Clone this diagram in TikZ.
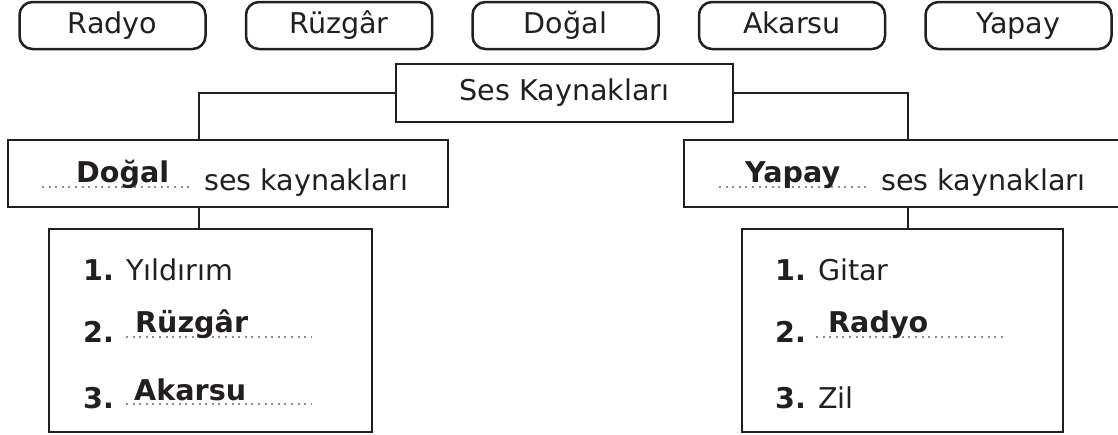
\documentclass[tikz,border=0pt]{standalone}
\usepackage{fontspec}
\setmainfont{DejaVu Sans}
\usepackage{tikz}

\definecolor{ink}{RGB}{35,31,32}
\definecolor{dotgray}{RGB}{140,140,140}
\newcommand\bigfont{\fontsize{28.6}{34}\selectfont}
\tikzset{
    wordbox/.style={shape=rectangle, rounded corners=13pt, draw=ink, line width=2.5pt, minimum width=186pt, minimum height=47pt, inner sep=0pt, text height=21pt, text depth=6pt},
    plainbox/.style={shape=rectangle, draw=ink, line width=2.5pt, inner sep=0pt},
    txt/.style={anchor=base west, inner sep=0pt, text=ink},
    answer/.style={txt, font=\bigfont\bfseries},
    blank/.style={draw=dotgray, line width=2pt, dash pattern=on 2pt off 4.6pt},
    wire/.style={draw=ink, line width=2.5pt}
}

\begin{document}
\begin{tikzpicture}[x=1pt, y=-1pt, font=\bigfont, text=ink]
    \useasboundingbox (0,0) rectangle (1118,434);

    \node[wordbox] (T1) at (112.5,25.5) {Radyo};
    \node[wordbox] (T2) at (339,25.5) {Rüzgâr};
    \node[wordbox] (T3) at (565.5,25.5) {Doğal};
    \node[wordbox] (T4) at (792,25.5) {Akarsu};
    \node[wordbox] (T5) at (1018.5,25.5) {Yapay};

    \node[plainbox, minimum width=337pt, minimum height=58pt] (S) at (564.5,93) {Ses Kaynakları};
    \node[plainbox, minimum width=440pt, minimum height=67pt] (D) at (228,173.5) {};
    \node[plainbox, minimum width=466pt, minimum height=67pt] (Y) at (917,173.5) {};
    \node[plainbox, minimum width=323pt, minimum height=203pt] (DL) at (210.5,330.5) {};
    \node[plainbox, minimum width=321pt, minimum height=203pt] (YL) at (902.5,330.5) {};

    \coordinate (LX) at (199,0);
    \coordinate (RX) at (908,0);

    \path[wire] (S.west) -| (D.north -| LX);
    \path[wire] (S.east) -| (Y.north -| RX);
    \path[wire] (D.south -| LX) -- (DL.north -| LX);
    \path[wire] (Y.south -| RX) -- (YL.north -| RX);

    \coordinate (D1) at (42,187);
    \coordinate (D2) at (191,187);
    \path[blank] (D1) -- (D2);
    \node[answer] (Da) at (76,182) {Doğal};
    \node[txt] (Db) at (204,190) {ses kaynakları};

    \coordinate (Y1) at (719,187);
    \coordinate (Y2) at (869,187);
    \path[blank] (Y1) -- (Y2);
    \node[answer] (Ya) at (745,182) {Yapay};
    \node[txt] (Yb) at (881,190) {ses kaynakları};

    \node[txt] (L1) at (83,280) {\textbf{1.} Yıldırım};
    \node[answer] (L2) at (83,342) {2.};
    \coordinate (L2a) at (126,337);
    \coordinate (L2b) at (312,337);
    \path[blank] (L2a) -- (L2b);
    \node[answer] (L2w) at (135,332) {Rüzgâr};
    \node[answer] (L3) at (83,408) {3.};
    \coordinate (L3a) at (126,404);
    \coordinate (L3b) at (312,404);
    \path[blank] (L3a) -- (L3b);
    \node[answer] (L3w) at (134,400) {Akarsu};

    \node[txt] (R1) at (775,280) {\textbf{1.} Gitar};
    \node[answer] (R2) at (775,342) {2.};
    \coordinate (R2a) at (816,337);
    \coordinate (R2b) at (1004,337);
    \path[blank] (R2a) -- (R2b);
    \node[answer] (R2w) at (828,332) {Radyo};
    \node[txt] (R3) at (775,408) {\textbf{3.} Zil};
\end{tikzpicture}
\end{document}
